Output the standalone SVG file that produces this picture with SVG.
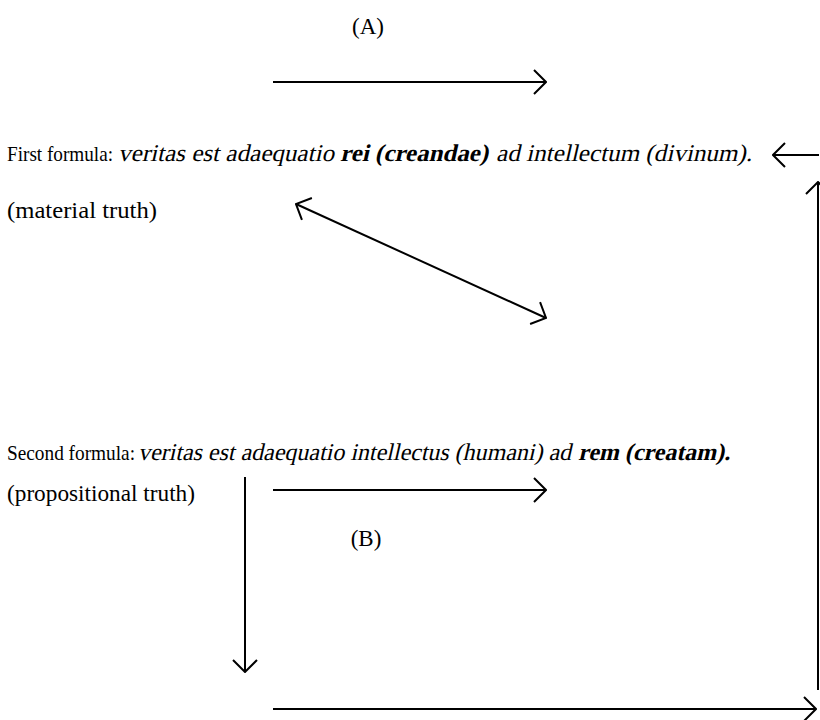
<svg xmlns="http://www.w3.org/2000/svg" width="820" height="720" viewBox="0 0 820 720">
<style>
text{font-family:"Liberation Serif","DejaVu Serif",serif;font-size:23px;fill:#000}
.r{font-size:22px}
.i{font-size:24px}
.b{font-weight:bold}
.c{stroke:#000;stroke-width:2;fill:none}
</style>
<defs>
<marker id="ah" viewBox="0 0 14 26" refX="13" refY="13" markerWidth="14" markerHeight="26" markerUnits="userSpaceOnUse" orient="auto-start-reverse">
<path d="M1,1 L13,13 L1,25" fill="none" stroke="#000" stroke-width="2"/>
</marker>
</defs>
<rect width="820" height="720" fill="#fff"/>
<g id="labelA"><text x="368" y="34" text-anchor="middle">(A)</text></g>
<g id="formula1">
<text class="r" x="7" y="161" textLength="106" lengthAdjust="spacingAndGlyphs">First formula:</text>
<text class="i" transform="translate(118,161) skewX(-13)" x="0" y="0" textLength="216" lengthAdjust="spacingAndGlyphs">veritas est adaequatio</text>
<text class="i b" transform="translate(340,161) skewX(-13)" x="0" y="0" textLength="148" lengthAdjust="spacingAndGlyphs">rei (creandae)</text>
<text class="i" transform="translate(496,161) skewX(-13)" x="0" y="0" textLength="256" lengthAdjust="spacingAndGlyphs">ad intellectum (divinum).</text>
</g>
<g id="material"><text x="7" y="218" textLength="150" lengthAdjust="spacingAndGlyphs">(material truth)</text></g>
<g id="formula2">
<text class="r" x="7" y="460" textLength="128" lengthAdjust="spacingAndGlyphs">Second formula:</text>
<text class="i" transform="translate(138,460) skewX(-13)" x="0" y="0" textLength="433" lengthAdjust="spacingAndGlyphs">veritas est adaequatio intellectus (humani) ad</text>
<text class="i b" transform="translate(578,460) skewX(-13)" x="0" y="0" textLength="152" lengthAdjust="spacingAndGlyphs">rem (creatam).</text>
</g>
<g id="propositional"><text x="7" y="501" textLength="188" lengthAdjust="spacingAndGlyphs">(propositional truth)</text></g>
<g id="labelB"><text x="366" y="546" text-anchor="middle">(B)</text></g>
<g id="connectors">
<line class="c" x1="273" y1="82" x2="546" y2="82" marker-end="url(#ah)"/>
<line class="c" x1="819" y1="155" x2="773" y2="155" marker-end="url(#ah)"/>
<line class="c" x1="296" y1="204" x2="546" y2="318" marker-start="url(#ah)" marker-end="url(#ah)"/>
<line class="c" x1="245" y1="477" x2="245" y2="672" marker-end="url(#ah)"/>
<line class="c" x1="273" y1="490" x2="546" y2="490" marker-end="url(#ah)"/>
<line class="c" x1="273" y1="709" x2="816" y2="709" marker-end="url(#ah)"/>
<line class="c" x1="818" y1="690" x2="818" y2="182" marker-end="url(#ah)"/>
</g>
</svg>
